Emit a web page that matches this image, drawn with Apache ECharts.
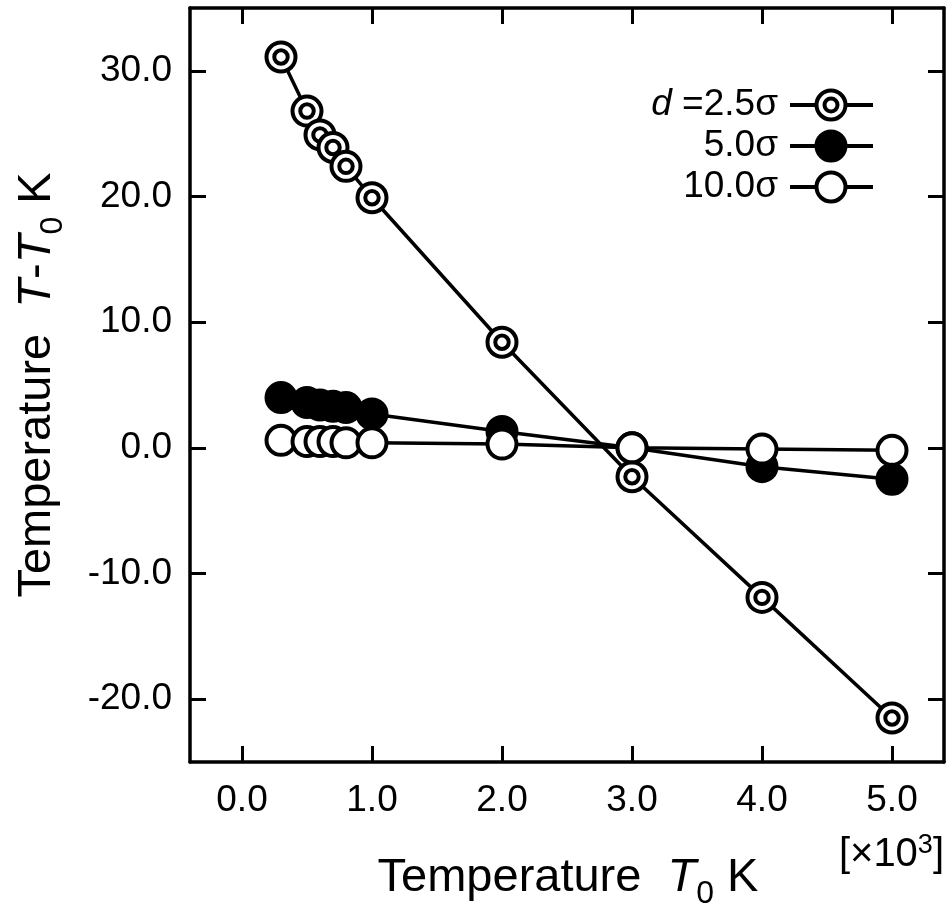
<!DOCTYPE html>
<html>
<head>
<meta charset="utf-8">
<script src="https://cdn.jsdelivr.net/npm/echarts@6/dist/echarts.min.js"></script>
<style>
html,body{margin:0;padding:0;background:#fff;}
#chart{width:950px;height:910px;}
</style>
</head>
<body>
<div id="chart"></div>
<script>
// T0 in units of 10^3 K
var xVals = [0.3, 0.5, 0.6, 0.7, 0.8, 1.0, 2.0, 3.0, 4.0, 5.0];
// T - T0 (K)
var d25 = [31.1, 26.8, 24.9, 23.9, 22.4, 19.9, 8.4, -2.3, -11.9, -21.5];
var d50 = [4.0, 3.6, 3.4, 3.3, 3.2, 2.7, 1.3, 0.0, -1.5, -2.5];
var d100 = [0.6, 0.5, 0.5, 0.5, 0.4, 0.4, 0.3, 0.0, -0.1, -0.2];
var xTicks = [0, 1, 2, 3, 4, 5];
var yTicks = [-20, -10, 0, 10, 20, 30];
var legendLabels = ['{it|d} =2.5σ', '5.0σ', '10.0σ'];

var FONT = '"Liberation Sans", Arial, Helvetica, sans-serif';
var ringSymbol = 'path://M0,-14A14,14,0,1,1,0,14A14,14,0,1,1,0,-14ZM0,-6.5A6.5,6.5,0,1,1,0,6.5A6.5,6.5,0,1,1,0,-6.5Z';

function pairs(ys) {
    return xVals.map(function (x, i) { return [x, ys[i]]; });
}

function xAxisDef(pos, show) {
    return {
        type: 'value', position: pos, min: -0.4, max: 5.4,
        axisLine: { show: true, onZero: false, lineStyle: { color: '#000', width: 3.5 } },
        axisTick: { show: true, inside: true, length: 16, customValues: xTicks, lineStyle: { color: '#000', width: 3 } },
        axisLabel: { show: show, customValues: xTicks, margin: 20, color: '#000', fontSize: 37, fontFamily: FONT,
            formatter: function (v) { return v.toFixed(1); } },
        splitLine: { show: false }
    };
}
function yAxisDef(pos, show) {
    return {
        type: 'value', position: pos, min: -25, max: 35,
        axisLine: { show: true, onZero: false, lineStyle: { color: '#000', width: 3.5 } },
        axisTick: { show: true, inside: true, length: 16, customValues: yTicks, lineStyle: { color: '#000', width: 3 } },
        axisLabel: { show: show, customValues: yTicks, margin: 18, color: '#000', fontSize: 37, fontFamily: FONT,
            formatter: function (v) { return v.toFixed(1); } },
        splitLine: { show: false }
    };
}
function lineSeries(name, ys, symbol, fill) {
    return {
        name: name, type: 'line', data: pairs(ys),
        symbol: symbol, symbolSize: 29,
        lineStyle: { color: '#000', width: 3.5 },
        itemStyle: { color: fill, borderColor: '#000', borderWidth: 4 },
        emphasis: { disabled: true },
        z: 3
    };
}

// legend drawn by hand: text on the left, symbol on a short line to the right
var legendGraphic = [];
var kinds = ['ring', 'filled', 'open'];
legendLabels.forEach(function (lab, i) {
    var y = 105 + i * 41;
    legendGraphic.push({
        type: 'text', x: 778, y: y,
        style: { text: lab, align: 'right', verticalAlign: 'middle', fill: '#000', font: '37px ' + FONT,
            rich: { it: { fontStyle: 'italic', fontSize: 37, fontFamily: FONT } } }
    });
    legendGraphic.push({
        type: 'line', shape: { x1: 790, y1: y, x2: 873, y2: y },
        style: { stroke: '#000', lineWidth: 4 }
    });
    legendGraphic.push({
        type: 'circle', shape: { cx: 831, cy: y, r: 14.5 },
        style: { fill: kinds[i] === 'filled' ? '#000' : '#fff', stroke: '#000', lineWidth: 4 }
    });
    if (kinds[i] === 'ring') {
        legendGraphic.push({
            type: 'circle', shape: { cx: 831, cy: y, r: 6.5 },
            style: { fill: '#fff', stroke: '#000', lineWidth: 4 }
        });
    }
});

var titleRich = {
    n: { fontSize: 47, fontFamily: FONT, lineHeight: 64 },
    it: { fontSize: 47, fontFamily: FONT, fontStyle: 'italic', lineHeight: 64 },
    sub: { fontSize: 32, fontFamily: FONT, lineHeight: 10, verticalAlign: 'bottom' }
};

var chart = echarts.init(document.getElementById('chart'));
var option = {
    animation: false,
    backgroundColor: '#fff',
    grid: { left: 190, top: 8, width: 754, height: 754, containLabel: false, outerBoundsMode: 'none' },
    xAxis: [xAxisDef('bottom', true), xAxisDef('top', false)],
    yAxis: [yAxisDef('left', true), yAxisDef('right', false)],
    series: [
        lineSeries('d=2.5σ', d25, ringSymbol, '#fff'),
        lineSeries('5.0σ', d50, 'circle', '#000'),
        lineSeries('10.0σ', d100, 'circle', '#fff')
    ],
    graphic: legendGraphic.concat([
        {
            type: 'text', x: 568, y: 878,
            style: { text: '{n|Temperature  }{it|T}{sub|0}{n| K}', align: 'center', verticalAlign: 'middle', fill: '#000',
                rich: titleRich }
        },
        {
            type: 'text', x: 37, y: 385, rotation: Math.PI / 2,
            style: { text: '{n|Temperature  }{it|T}{n|-}{it|T}{sub|0}{n| K}', align: 'center', verticalAlign: 'middle', fill: '#000',
                rich: titleRich }
        },
        {
            type: 'text', x: 944, y: 855,
            style: { text: '{n|[×10}{sup|3}{n|]}', align: 'right', verticalAlign: 'middle', fill: '#000',
                rich: {
                    n: { fontSize: 40, fontFamily: FONT, lineHeight: 46 },
                    sup: { fontSize: 27, fontFamily: FONT, lineHeight: 10, verticalAlign: 'top' }
                } }
        }
    ])
};
chart.setOption(option);
</script>
</body>
</html>
